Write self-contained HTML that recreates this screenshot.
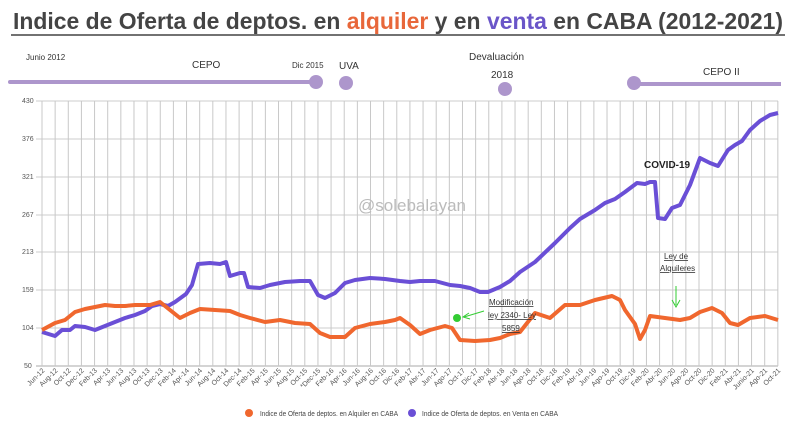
<!DOCTYPE html>
<html><head><meta charset="utf-8"><style>
body{margin:0;background:#fff;width:800px;height:435px;overflow:hidden}
svg{display:block}
text{font-family:"Liberation Sans",sans-serif}
</style></head><body>
<svg width="800" height="435" viewBox="0 0 800 435">
<text x="13" y="29" font-size="23" font-weight="bold" fill="#444" textLength="770" lengthAdjust="spacingAndGlyphs">Indice de Oferta de deptos. en <tspan fill="#e8673a">alquiler</tspan> y en <tspan fill="#6a55c8">venta</tspan> en CABA  (2012-2021)</text>
<line x1="11" y1="35" x2="785" y2="35" stroke="#444" stroke-width="1.5"/>
<g fill="#ad96cc" stroke="none">
<rect x="8" y="80" width="308" height="4" rx="2"/>
<circle cx="316" cy="82" r="7"/>
<circle cx="346" cy="83" r="7"/>
<circle cx="505" cy="89" r="7"/>
<circle cx="634" cy="83" r="7"/>
<rect x="634" y="82" width="147" height="4"/>
</g>
<g fill="#333" font-size="10">
<text x="26" y="60" font-size="8">Junio 2012</text>
<text x="192" y="68">CEPO</text>
<text x="292" y="68" font-size="8">Dic 2015</text>
<text x="339" y="69">UVA</text>
<text x="469" y="60">Devaluación</text>
<text x="491" y="78">2018</text>
<text x="703" y="75">CEPO II</text>
</g>
<g stroke="#ccc" stroke-width="1">
<line x1="36" y1="101" x2="778" y2="101"/>
<line x1="36" y1="139" x2="778" y2="139"/>
<line x1="36" y1="177" x2="778" y2="177"/>
<line x1="36" y1="215" x2="778" y2="215"/>
<line x1="36" y1="252" x2="778" y2="252"/>
<line x1="36" y1="290" x2="778" y2="290"/>
<line x1="36" y1="328" x2="778" y2="328"/>
<line x1="36" y1="366" x2="778" y2="366" stroke="#aaa"/>
</g>
<g id="vg" stroke="#c8c8c8"></g>
<g fill="#555" font-size="7">
<text x="22" y="103">430</text><text x="22" y="141">376</text><text x="22" y="179">321</text><text x="22" y="217">267</text><text x="22" y="254">213</text><text x="22" y="292">159</text><text x="22" y="330">104</text><text x="24" y="368">50</text>
</g>
<g id="xl" fill="#555" font-size="7"></g>
<text x="358" y="211" font-size="17" fill="#bbb">@solebalayan</text>
<polyline fill="none" stroke="#6a4fd6" stroke-width="4" stroke-linejoin="round" points="42,332 55,336 62,330 70,330 75,326 85,327 95,330 105,326 115,322 125,318 135,315 145,311 152,306 160,304 168,306 175,302 186,294 192,285 198,264 210,263 220,264 226,262 230,276 240,273 244,273 248,287 260,288 270,285 285,282 300,281 310,281 318,295 325,298 335,293 345,283 355,280 370,278 385,279 400,281 410,282 420,281 435,281 450,285 460,286 470,288 480,292 488,292 500,287 510,281 520,272 535,262 555,243 570,228 580,219 595,210 605,203 615,199 625,192 637,183 645,184 650,182 655,182 658,218 665,219 672,208 680,205 690,185 700,158 710,163 718,166 728,150 735,145 742,141 750,130 760,121 770,115 778,113"/>
<polyline fill="none" stroke="#f0672e" stroke-width="4" stroke-linejoin="round" points="42,330 55,323 65,320 75,312 85,309 95,307 105,305 115,306 125,306 135,305 150,305 160,302 170,310 180,318 190,313 200,309 215,310 230,311 240,315 250,318 265,322 280,320 295,323 310,324 320,333 330,337 345,337 355,328 370,324 385,322 395,320 400,318 410,325 420,334 430,330 445,326 452,328 460,340 475,341 490,340 500,338 510,334 520,332 535,313 550,318 565,305 580,305 595,300 612,296 620,300 625,310 635,324 640,339 645,330 650,316 665,318 680,320 690,318 700,312 712,308 722,313 730,323 738,325 750,318 765,316 778,320"/>
<text x="644" y="168" font-size="10" font-weight="bold" fill="#222">COVID-19</text>
<g font-size="8" fill="#333" text-decoration="underline">
<text x="664" y="259">Ley de</text>
<text x="660" y="271">Alquileres</text>
<text x="489" y="305">Modificación</text>
<text x="488" y="318">ley 2340- Ley</text>
<text x="502" y="331">5859</text>
</g>
<line x1="676" y1="286" x2="676" y2="305" stroke="#3c3" stroke-width="1"/>
<path d="M672,300 L676,307 L680,300" fill="none" stroke="#3c3"/>
<circle cx="457" cy="318" r="4" fill="#3c3"/>
<line x1="484" y1="311" x2="464" y2="317" stroke="#3c3"/>
<path d="M469,313 L463,317 L470,319" fill="none" stroke="#3c3"/>
<circle cx="249" cy="413" r="4" fill="#f0672e"/>
<text x="260" y="416" font-size="7" fill="#444" textLength="138" lengthAdjust="spacingAndGlyphs">Indice de Oferta de deptos. en Alquiler en CABA</text>
<circle cx="412" cy="413" r="4" fill="#6a4fd6"/>
<text x="422" y="416" font-size="7" fill="#444" textLength="136" lengthAdjust="spacingAndGlyphs">Indice de Oferta de deptos. en Venta en CABA</text>
</svg>
<script>
var L="Jun-12 Aug-12 Oct-12 Dec-12 Feb-13 Apr-13 Jun-13 Aug-13 Oct-13 Dec-13 Feb-14 Apr-14 Jun-14 Aug-14 Oct-14 Dec-14 Feb-15 Apr-15 Jun-15 Aug-15 Oct-15 *Dec-15 Feb-16 Apr-16 Jun-16 Aug-16 Oct-16 Dic-16 Feb-17 Abr-17 Jun-17 Ago-17 Oct-17 Dic-17 Feb-18 Abr-18 Jun-18 Ago-18 Oct-18 Dic-18 Feb-19 Abr-19 Jun-19 Ago-19 Oct-19 Dic-19 Feb-20 Abr-20 Jun-20 Ago-20 Oct-20 Dic-20 Feb-21 Abr-21 Junio-21 Ago-21 Oct-21".split(" ");
var ns="http://www.w3.org/2000/svg",vg=document.getElementById("vg"),xl=document.getElementById("xl");
L.forEach(function(s,i){var x=42+i*13.14;
var l=document.createElementNS(ns,"line");l.setAttribute("x1",x);l.setAttribute("x2",x);l.setAttribute("y1",101);l.setAttribute("y2",366);vg.appendChild(l);
var t=document.createElementNS(ns,"text");t.setAttribute("text-anchor","end");t.setAttribute("transform","translate("+(x+3)+",371) rotate(-45)");t.textContent=s;xl.appendChild(t);});
</script>
</body></html>
